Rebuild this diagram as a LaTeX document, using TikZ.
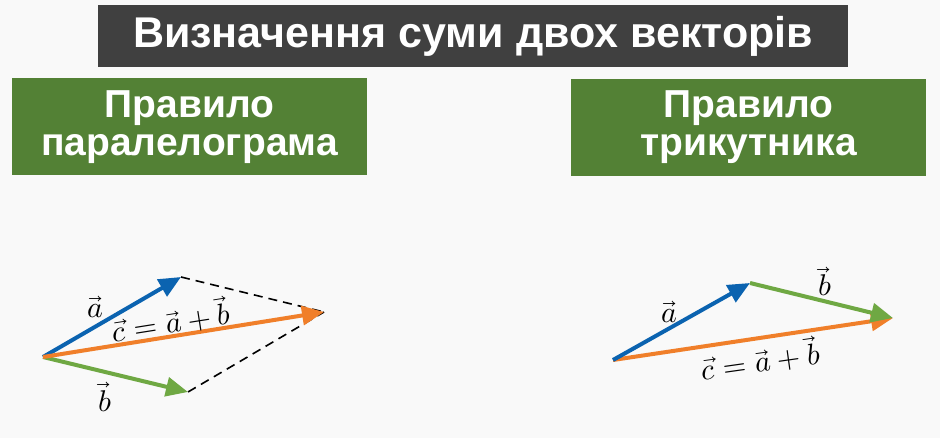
\documentclass[tikz,border=0pt]{standalone}
\usepackage{fontspec}
\usepackage{unicode-math}
\setmainfont{Liberation Sans}
\setmathfont{Latin Modern Math}
\usetikzlibrary{arrows.meta}
\definecolor{bgc}{HTML}{F9F9F9}
\definecolor{titlec}{HTML}{404040}
\definecolor{greenbox}{HTML}{538135}
\definecolor{vblue}{HTML}{0B63B0}
\definecolor{vorange}{HTML}{F07F2A}
\definecolor{vgreen}{HTML}{6FA843}
\tikzset{
  titlebox/.style={fill=titlec, text=white, inner sep=0pt, minimum width=750pt, minimum height=62pt,
    font=\bfseries\fontsize{43}{50}\selectfont},
  rulebox/.style={fill=greenbox, text=white, inner sep=0pt, minimum width=355pt, minimum height=97pt,
    align=center, font=\bfseries\fontsize{39}{38}\selectfont},
  vec/.style={line width=4pt, -{Triangle[length=22pt,width=19pt]}, shorten >=0pt},
  guide/.style={dashed, line width=1.6pt, dash pattern=on 9pt off 6pt},
  lbl/.style={inner sep=0pt, anchor=base, font=\fontsize{30}{34}\selectfont}
}
\begin{document}
\begin{tikzpicture}[x=1pt,y=-1pt]
\fill[bgc] (0,0) rectangle (940,438);
\useasboundingbox (0,0) rectangle (940,438);
\node[titlebox] (title) at (473,36) {Визначення суми двох векторів};
\node[rulebox] (lbox) at (189.5,127) {Правило\\паралелограма};
\node[rulebox] (rbox) at (748.5,127.5) {Правило\\трикутника};
% left: parallelogram rule
\coordinate (O1) at (43,357);
\coordinate (A1) at (181,277);
\coordinate (C1) at (324,312);
\coordinate (B1) at (188,392);
\draw[guide] (A1) -- (C1);
\draw[guide] (B1) -- (C1);
\draw[vec, vgreen] (O1) -- (B1);
\draw[vec, vblue] (O1) -- (A1);
\draw[vec, vorange] (O1) -- (C1);
\node[lbl] (la1) at (95,318) {$\vec a$};
\node[lbl] (lb1) at (105,411) {$\vec b$};
\node[lbl, rotate=9] (lc1) at (173,333) {$\vec c = \vec a + \vec b$};
% right: triangle rule
\coordinate (O2) at (613,360);
\coordinate (A2) at (750,283);
\coordinate (C2) at (893,318);
\draw[vec, vorange] (O2) -- (C2);
\draw[vec, vgreen] (A2) -- (C2);
\draw[vec, vblue] (O2) -- (A2);
\node[lbl] (la2) at (669,323) {$\vec a$};
\node[lbl] (lb2) at (825,296) {$\vec b$};
\node[lbl, rotate=8] (lc2) at (762,372) {$\vec c = \vec a + \vec b$};
\end{tikzpicture}
\end{document}
